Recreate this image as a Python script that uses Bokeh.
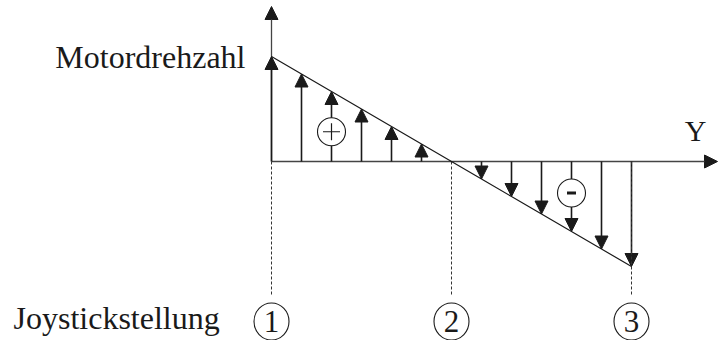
from bokeh.plotting import figure
from bokeh.models import Range1d, Arrow, NormalHead, ColumnDataSource
from bokeh.core.properties import value
from bokeh.embed import file_html
from bokeh.resources import INLINE

# ---- data ----
joystick_step = [0, 1, 2, 3, 4, 5, 6, 7, 8, 9, 10, 11, 12]
motor_speed = [6, 5, 4, 3, 2, 1, 0, -1, -2, -3, -4, -5, -6]
joy_positions = [0, 6, 12]
joy_labels = ["1", "2", "3"]
sign_x = [2, 10]
sign_y = [1.7, -1.8]
sign_labels = ["+", "-"]
y_title = "Motordrehzahl"
x_title = "Joystickstellung"
x_axis_label = "Y"

# ---- pixel geometry helpers (layout only) ----
W, H = 718, 340
X0, UX = 271, 30.0     # px of x=0, px per unit
Y0, UY = 161, 17.5     # px (from top) of y=0, px per unit


def dx(px):
    return (px - X0) / UX


def dy(py):
    return (Y0 - py) / UY


p = figure(width=W, height=H, output_backend="svg", toolbar_location=None,
           x_range=Range1d(dx(0), dx(W)), y_range=Range1d(dy(H), dy(0)),
           x_axis_location=None, y_axis_location=None, min_border=0)
p.grid.visible = False
p.outline_line_color = None
p.background_fill_color = "white"
p.border_fill_color = "white"

FONT = value("Liberation Serif")
INK = "#1a1a1a"

# axes (arrows)
p.add_layout(Arrow(x_start=0, y_start=0, x_end=0, y_end=dy(6),
                   line_color="#444444", line_width=1.3,
                   end=NormalHead(size=13, fill_color=INK, line_color=INK),
                   level="underlay"))
p.add_layout(Arrow(x_start=0, y_start=0, x_end=dx(717), y_end=0,
                   line_color="#444444", line_width=1.3,
                   end=NormalHead(size=13, fill_color=INK, line_color=INK),
                   level="underlay"))

# dashed drop lines
p.segment(x0=joy_positions, y0=[0] * len(joy_positions),
          x1=joy_positions, y1=[dy(294)] * len(joy_positions),
          line_color="#333333", line_width=1, line_dash="3 2")

# diagonal characteristic line
p.line(joystick_step, motor_speed, line_color=INK, line_width=1.2)

# arrows
ax_x = [x for x, s in zip(joystick_step, motor_speed) if s != 0]
ax_s = [s for s in motor_speed if s != 0]
src = ColumnDataSource(dict(x0=ax_x, y0=[0] * len(ax_x), x1=ax_x, y1=ax_s))
p.add_layout(Arrow(x_start="x0", y_start="y0", x_end="x1", y_end="y1", source=src,
                   line_color=INK, line_width=1.6,
                   end=NormalHead(size=13, fill_color=INK, line_color=INK),
                   level="underlay"))

# sign circles
p.scatter(sign_x, sign_y, marker="circle", size=28, fill_color="white",
          line_color=INK, line_width=1.1)
p.scatter([sign_x[0]], [sign_y[0]], marker="cross", size=17, line_color=INK,
          line_width=1.2)
p.scatter([sign_x[1]], [sign_y[1]], marker="dash", size=9, line_color=INK,
          line_width=3)

# circled joystick numbers
cy = dy(321)
p.ellipse(joy_positions, [cy] * 3, width=35, height=37, width_units="screen",
          height_units="screen", fill_color="white", line_color=INK,
          line_width=1.1)
p.text(joy_positions, [cy] * 3, text=joy_labels, text_font=FONT,
       text_font_size="31px", text_align="center", text_baseline="middle",
       text_color=INK)

# labels
p.text([dx(245)], [dy(56)], text=[y_title], text_font=FONT,
       text_font_size="32px", text_align="right", text_baseline="middle",
       text_color=INK)
p.text([dx(13)], [dy(317)], text=[x_title], text_font=FONT,
       text_font_size="32px", text_align="left", text_baseline="middle",
       text_color=INK)
p.text([dx(695)], [dy(130)], text=[x_axis_label], text_font=FONT,
       text_font_size="30px", text_align="center", text_baseline="middle",
       text_color=INK)

open("out.html", "w").write(file_html(p, INLINE))
